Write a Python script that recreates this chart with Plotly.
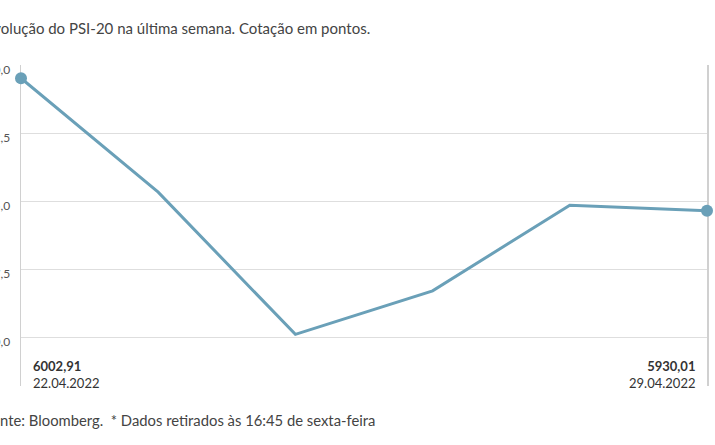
import plotly.graph_objects as go

dates = ["22.04.2022", "25.04.2022", "26.04.2022", "27.04.2022", "28.04.2022", "29.04.2022"]
values = [6002.91, 5940.2, 5861.9, 5885.9, 5933.0, 5930.01]
first_label = "6002,91"
last_label = "5930,01"
title_text = "Evolução do PSI-20 na última semana. Cotação em pontos."
footer_text = "Fonte: Bloomberg.  * Dados retirados às 16:45 de sexta-feira"

FONT = "Lato"
LINE_COLOR = "#6aa0b8"
PLOT_W = 715 - 21 - 8
PLOT_H = 445 - 65 - 59

fig = go.Figure()
fig.add_trace(go.Scatter(
    x=dates, y=values, mode="lines",
    line=dict(color=LINE_COLOR, width=3),
    hoverinfo="skip", cliponaxis=False,
))
fig.add_trace(go.Scatter(
    x=[dates[0], dates[-1]], y=[values[0], values[-1]], mode="markers",
    marker=dict(color=LINE_COLOR, size=12),
    hoverinfo="skip", cliponaxis=False,
))

fig.update_layout(
    width=715, height=445,
    margin=dict(l=21, r=8, t=65, b=59, autoexpand=False),
    paper_bgcolor="white", plot_bgcolor="white",
    showlegend=False,
    separators=",.",
    font=dict(family=FONT, color="#333333", size=13),
    xaxis=dict(
        type="category", range=[0, 5], showgrid=False, showline=False,
        showticklabels=False, zeroline=False, fixedrange=True, automargin=False,
    ),
    yaxis=dict(
        range=[5833.5, 6010.2], tick0=6010, dtick=37.5, tickformat=".1f",
        showgrid=True, gridcolor="#dedede", gridwidth=1,
        showline=True, mirror=True, linecolor="#d0d0d0", linewidth=1.5,
        zeroline=False, ticks="", ticklabelstandoff=7, ticklabelshift=4,
        tickfont=dict(family=FONT, size=12, color="#555555"),
        fixedrange=True, automargin=False, layer="below traces",
    ),
)

fig.add_annotation(
    text=title_text, xref="paper", yref="paper",
    x=(-17 - 21) / PLOT_W, y=(386 - 28) / PLOT_H, xanchor="left", yanchor="middle",
    showarrow=False, font=dict(family=FONT, size=15, color="#444444"),
)
fig.add_annotation(
    text=footer_text, xref="paper", yref="paper",
    x=(-18 - 21) / PLOT_W, y=(386 - 420) / PLOT_H, xanchor="left", yanchor="middle",
    showarrow=False, font=dict(family=FONT, size=14.8, color="#444444"),
)
fig.add_annotation(
    text=f"<b>{first_label}</b><br>{dates[0]}", xref="x", yref="paper",
    x=dates[0], y=(386 - 374.5) / PLOT_H, xanchor="left", yanchor="middle",
    xshift=10, align="left", showarrow=False,
    font=dict(family=FONT, size=13, color="#333333"),
)
fig.add_annotation(
    text=f"<b>{last_label}</b><br>{dates[-1]}", xref="x", yref="paper",
    x=dates[-1], y=(386 - 374.5) / PLOT_H, xanchor="right", yanchor="middle",
    xshift=-10, align="right", showarrow=False,
    font=dict(family=FONT, size=13, color="#333333"),
)

fig.write_html(
    "out.html",
    config={"displayModeBar": False, "staticPlot": True},
    post_script="document.body.style.margin='0';document.body.style.padding='0';",
)
